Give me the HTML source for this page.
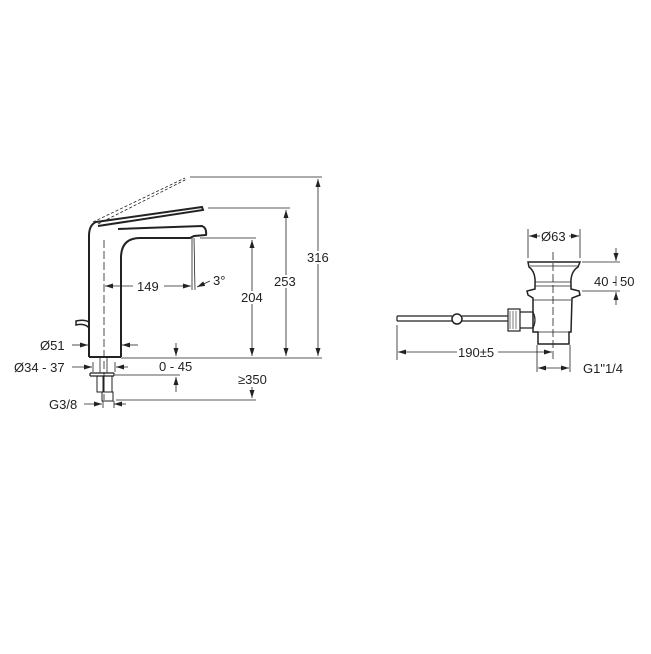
<!DOCTYPE html>
<html><head><style>body{margin:0;background:#fff}svg{display:block}text{font-family:"Liberation Sans",sans-serif;font-size:13px;fill:#222}</style></head>
<body>
<svg width="651" height="654" viewBox="0 0 651 654">
<defs><marker id="a" markerWidth="8" markerHeight="6" refX="8" refY="3" orient="auto-start-reverse" markerUnits="userSpaceOnUse"><path d="M0,0.5 L8,3 L0,5.5z" fill="#222"/></marker></defs>
<g stroke="#222" fill="none">
<!-- tap body -->
<path d="M89,357 L89,236 Q89,225 96,222 L202,207 L203,210 L98,226" stroke-width="2"/>
<path d="M121,357 L121,258 Q121,238 140,238 L190,238 L194,236 L206,235 Q207,228 202,226 L118,229" stroke-width="2"/>
<path d="M89,357 L121,357" stroke-width="2"/>
<path d="M89,322 Q84,319 76,321 L76,325 Q85,323 89,328" stroke-width="1.5"/>
<!-- dashed lever -->
<path d="M93,222 L185,178 M98,224 L187,179" stroke-dasharray="3,2" stroke-width="0.8"/>
<path d="M104,240 L104,400" stroke-dasharray="8,3" stroke-width="0.8"/>
<path d="M192,238 L192,290 M194,238 L195,290" stroke-width="0.8"/>
<!-- shank -->
<path d="M90,373 L114,373 M90,376 L114,376 M90,373 L90,376 M114,373 L114,376" stroke-width="1.2"/>
<path d="M97,376 L97,392 L103,392 L103,376 M104,376 L104,392 M112,376 L112,392 M102,392 L102,401 L113,401 L113,392 L102,392" stroke-width="1"/>
<path d="M100,358 L100,373 M107,358 L107,373" stroke-width="0.8"/>
<!-- dimension lines -->
<g stroke-width="0.8">
<path d="M190,177 L322,177 M208,208 L290,208 M200,238 L256,238 M121,358 L322,358"/>
<path d="M318,251 L318,179" marker-end="url(#a)"/><path d="M318,264 L318,356" marker-end="url(#a)"/>
<path d="M286,275 L286,210" marker-end="url(#a)"/><path d="M286,288 L286,356" marker-end="url(#a)"/>
<path d="M252,291 L252,240" marker-end="url(#a)"/><path d="M252,304 L252,356" marker-end="url(#a)"/>
<path d="M133,286 L105,286" marker-end="url(#a)"/><path d="M164,286 L191,286" marker-end="url(#a)"/>
<path d="M210,281 L197,287" marker-end="url(#a)"/>
<path d="M72,345 L88,345" marker-end="url(#a)"/><path d="M138,345 L122,345" marker-end="url(#a)"/>
<path d="M72,367 L92,367" marker-end="url(#a)"/><path d="M128,367 L116,367" marker-end="url(#a)"/>
<path d="M93,362 L93,372 M115,362 L115,372"/>
<path d="M115,375 L180,375 M116,400 L256,400"/>
<path d="M176,343 L176,356" marker-end="url(#a)"/><path d="M176,392 L176,377" marker-end="url(#a)"/>
<path d="M252,387 L252,398" marker-end="url(#a)"/>
<path d="M84,404 L102,404" marker-end="url(#a)"/><path d="M126,404 L114,404" marker-end="url(#a)"/>
<path d="M103,401 L103,408 M114,401 L114,408"/>
</g>
<!-- drain -->
<path d="M553,252 L553,360" stroke-dasharray="8,3" stroke-width="0.8"/>
<path d="M528,262 L580,262 L578,267 Q570,272 571,285 L571,289 L579,291 L580,295 L572,298 L571,332 L569,332 L569,344 L538,344 L538,332 L533,332 L533,298 L528,295 L527,291 L535,289 L535,285 Q536,272 529,267 Z" stroke-width="1.5"/>
<path d="M530,266 L578,266 M535,282 L571,282 M535,286 L571,286 M533,300 L571,300 M538,332 L569,332" stroke-width="0.8"/>
<path d="M520,312 L533,312 Q537,320 533,328 L520,328" stroke-width="1.2"/>
<rect x="508" y="309" width="12" height="22" stroke-width="1.2"/>
<path d="M510,311 L510,329 M513,311 L513,329 M516,311 L516,329" stroke-width="0.6"/>
<path d="M397,316 L452,316 M462,316 L508,316 M397,321 L452,321 M462,321 L508,321 M397,316 L397,321" stroke-width="1.2"/>
<circle cx="457" cy="319" r="5" stroke-width="1.5"/>
<g stroke-width="0.8">
<path d="M528,229 L528,258 M580,229 L580,258"/>
<path d="M540,236 L529,236" marker-end="url(#a)"/><path d="M569,236 L579,236" marker-end="url(#a)"/>
<path d="M582,262 L620,262 M582,291 L620,291"/>
<path d="M616,248 L616,261" marker-end="url(#a)"/><path d="M616,305 L616,292" marker-end="url(#a)"/>
<path d="M616,276 L616,286"/>
<path d="M397,325 L397,360 M537,345 L537,372 M570,345 L570,372"/>
<path d="M457,352 L398,352" marker-end="url(#a)"/><path d="M498,352 L552,352" marker-end="url(#a)"/>
<path d="M538,368 L569,368" marker-start="url(#a)" marker-end="url(#a)"/>
</g>
</g>
<g>
<text x="307" y="262">316</text>
<text x="274" y="286">253</text>
<text x="241" y="302">204</text>
<text x="137" y="291">149</text>
<text x="213" y="285">3°</text>
<text x="40" y="350">Ø51</text>
<text x="14" y="372">Ø34 - 37</text>
<text x="159" y="371">0 - 45</text>
<text x="238" y="384">≥350</text>
<text x="49" y="409">G3/8</text>
<text x="541" y="241">Ø63</text>
<text x="594" y="286">40 - 50</text>
<text x="458" y="357">190±5</text>
<text x="583" y="373">G1"1/4</text>
</g>
</svg>
</body></html>
